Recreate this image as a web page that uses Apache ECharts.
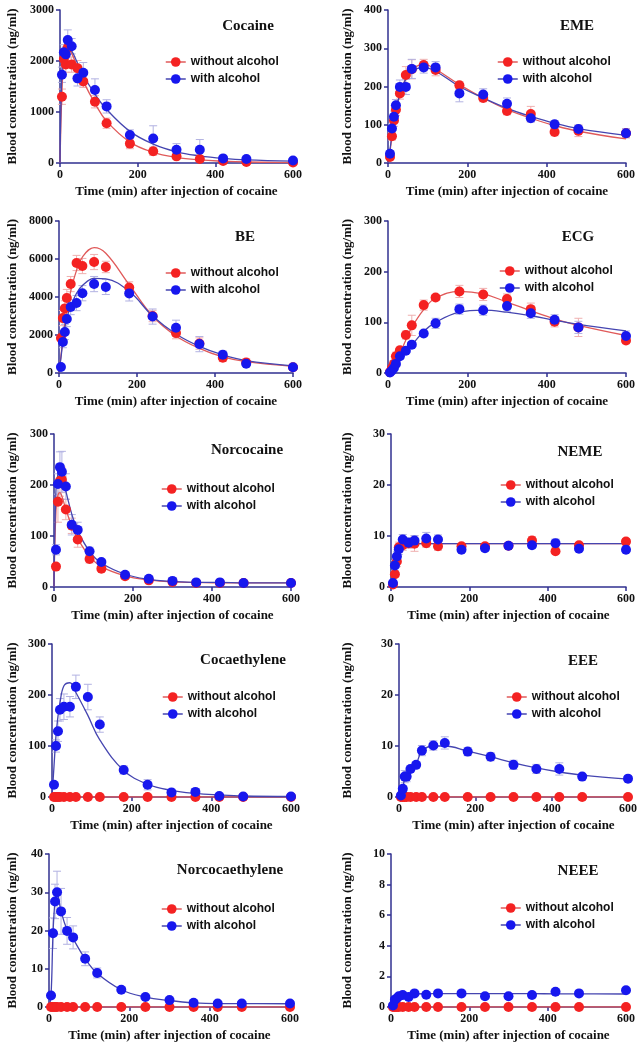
<!DOCTYPE html>
<html lang="en">
<head>
<meta charset="UTF-8">
<title>Blood concentration after cocaine injection</title>
<script src="https://cdn.jsdelivr.net/npm/echarts/dist/echarts.min.js"></script>
<style>
  html, body { margin: 0; padding: 0; background: #fff; }
  #main { width: 641px; height: 1050px; }
</style>
</head>
<body>
<div id="main"></div>
<script>
// sampling times (min) of the measured points
var T = [5, 10, 15, 20, 30, 45, 60, 90, 120, 180, 240, 300, 360, 420, 480, 600];
var FIT_T = [0, 5, 10, 15, 20, 30, 45, 60, 90, 120, 180, 240, 300, 360, 420, 480, 600];

var ZERO = [0, 0, 0, 0, 0, 0, 0, 0, 0, 0, 0, 0, 0, 0, 0, 0];
var ZERO_FIT = [0, 0, 0, 0, 0, 0, 0, 0, 0, 0, 0, 0, 0, 0, 0, 0, 0];

// Cocaine
var cocWithout = [1300, 2040, 1930, 2260, 1930, 1860, 1600, 1200, 780, 380, 230, 130, 80, 40, 20, 10];
var cocWith = [1730, 2170, 2130, 2410, 2290, 1660, 1770, 1430, 1110, 550, 480, 260, 260, 90, 80, 50];
var cocWithoutSd = [150, 150, 150, 200, 150, 150, 120, 120, 100, 100, 80, 50, 40, 20, 15, 10];
var cocWithSd = [150, 150, 150, 200, 150, 150, 200, 220, 130, 100, 250, 120, 200, 40, 30, 30];
var cocFitWithout = [0, 1400, 2050, 2230, 2250, 2150, 1870, 1600, 1170, 820, 410, 210, 110, 60, 35, 20, 8];
var cocFitWith = [0, 1800, 2150, 2250, 2260, 2200, 1960, 1720, 1350, 1050, 620, 370, 220, 140, 90, 60, 35];

// EME
var emeWithout = [16, 70, 111, 139, 182, 230, 245, 256, 243, 203, 170, 136, 128, 81, 84, 78];
var emeWith = [24, 90, 121, 151, 199, 199, 246, 250, 250, 182, 179, 155, 117, 101, 89, 78];
var emeWithoutSd = [5, 10, 15, 15, 15, 22, 25, 15, 15, 10, 10, 10, 20, 10, 15, 12];
var emeWithSd = [8, 12, 15, 15, 18, 20, 25, 15, 15, 22, 15, 15, 10, 10, 10, 12];
var emeFitWithout = [0, 30, 70, 105, 135, 180, 222, 245, 258, 245, 205, 170, 140, 117, 98, 83, 63];
var emeFitWith = [0, 35, 75, 110, 138, 180, 220, 240, 250, 240, 200, 170, 143, 122, 104, 90, 72];

// BE
var beWithout = [1840, 2890, 3400, 3950, 4680, 5790, 5630, 5840, 5580, 4500, 3000, 2100, 1550, 800, 550, 300];
var beWith = [315, 1630, 2160, 2840, 3470, 3680, 4200, 4680, 4530, 4190, 2970, 2380, 1520, 960, 490, 300];
var beWithoutSd = [150, 400, 400, 450, 400, 400, 400, 400, 300, 300, 300, 300, 300, 200, 200, 100];
var beWithSd = [100, 300, 400, 400, 400, 400, 400, 400, 400, 400, 400, 400, 400, 200, 100, 100];
var beFitWithout = [0, 900, 1800, 2600, 3300, 4300, 5400, 6100, 6600, 6300, 4650, 3000, 1950, 1300, 850, 600, 350];
var beFitWith = [0, 800, 1700, 2400, 2900, 3500, 4200, 4600, 4980, 4950, 4300, 3000, 2050, 1400, 950, 650, 380];

// ECG
var ecgWithout = [2, 10, 18, 33, 45, 75, 94, 134, 149, 161, 155, 146, 126, 101, 90, 64];
var ecgWith = [1, 5, 10, 18, 33, 44, 56, 78, 98, 126, 124, 132, 118, 105, 90, 73];
var ecgWithoutSd = [1, 3, 5, 8, 6, 8, 20, 10, 6, 12, 12, 10, 12, 10, 18, 6];
var ecgWithSd = [1, 2, 3, 4, 5, 5, 5, 5, 10, 10, 10, 10, 10, 10, 12, 10];
var ecgFitWithout = [0, 3, 9, 15, 22, 38, 65, 90, 125, 148, 161, 156, 140, 123, 107, 94, 74];
var ecgFitWith = [0, 2, 5, 9, 14, 24, 40, 55, 82, 100, 120, 124, 120, 113, 104, 96, 83];

// Norcocaine
var norWithout = [40, 167, 208, 210, 152, 120, 93, 55, 36, 21, 13, 10, 8, 8, 8, 8];
var norWith = [73, 202, 235, 226, 197, 122, 112, 70, 49, 24, 16, 12, 9, 9, 8, 8];
var norWithoutSd = [5, 40, 30, 25, 20, 15, 15, 8, 5, 4, 3, 2, 2, 1, 1, 1];
var norWithSd = [10, 20, 30, 40, 25, 20, 15, 8, 5, 4, 3, 2, 1, 1, 1, 1];
var norFitWithout = [0, 150, 180, 185, 178, 152, 120, 95, 60, 40, 22, 14, 10, 9, 8, 8, 8];
var norFitWith = [0, 190, 222, 228, 218, 188, 143, 110, 70, 47, 25, 15, 11, 9, 9, 8, 8];

// NEME
var nemeWithout = [0.5, 2.5, 5, 7.8, 8.2, 8.6, 8.5, 8.6, 8.0, 8.0, 8.0, 8.1, 9.1, 7.0, 8.2, 8.9];
var nemeWith = [0.8, 4.2, 6.0, 7.4, 9.3, 8.7, 9.1, 9.5, 9.3, 7.3, 7.6, 8.1, 8.2, 8.6, 7.5, 7.3];
var nemeWithoutSd = [0.3, 0.5, 1, 1, 1, 1, 1.5, 0.8, 0.8, 0.5, 0.5, 0.5, 0.8, 0.4, 0.5, 0.6];
var nemeWithSd = [0.3, 1, 1, 1, 1, 1, 1, 1.2, 0.9, 0.5, 0.5, 0.4, 0.6, 0.8, 0.5, 0.5];
var nemeFitWithout = [0, 2.5, 5, 7, 8, 8.4, 8.5, 8.5, 8.5, 8.5, 8.5, 8.5, 8.5, 8.5, 8.5, 8.5, 8.5];
var nemeFitWith = [0, 3, 5.5, 7.2, 8, 8.4, 8.5, 8.5, 8.5, 8.5, 8.5, 8.5, 8.5, 8.5, 8.5, 8.5, 8.5];

// Cocaethylene
var ceWith = [24, 100, 129, 171, 177, 177, 216, 196, 142, 53, 24, 9, 10, 2, 1, 1];
var ceWithSd = [4, 12, 20, 22, 25, 20, 23, 25, 15, 8, 10, 3, 6, 2, 1, 1];
var ceFitWith = [0, 60, 120, 158, 185, 218, 224, 205, 160, 112, 52, 25, 13, 7, 4, 2, 1];

// EEE
var eeeWith = [0.3, 1.6, 4.0, 4.0, 5.5, 6.3, 9.1, 10.1, 10.6, 8.9, 7.9, 6.3, 5.5, 5.5, 4.0, 3.6];
var eeeWithSd = [0.2, 0.5, 1.2, 1.0, 0.6, 0.5, 1.0, 0.9, 1.2, 0.8, 0.8, 0.9, 0.9, 1.2, 0.4, 0.4];
var eeeFitWith = [0, 0.3, 1.6, 3.8, 4.1, 5.5, 6.5, 9.0, 10.0, 10.0, 9.0, 7.9, 6.7, 5.7, 4.9, 4.3, 3.5];

// Norcocaethylene
var nceWith = [3.0, 19.3, 27.6, 30.0, 25.0, 19.9, 18.2, 12.6, 8.9, 4.5, 2.6, 1.8, 1.1, 0.9, 0.9, 0.9];
var nceWithSd = [0.5, 4, 4.5, 5.5, 6, 3.5, 3, 1.8, 1.3, 0.4, 0.3, 0.3, 0.2, 0.2, 0.2, 0.2];
var nceFitWith = [0, 3.0, 19.3, 27.6, 29.8, 25.0, 20.2, 17.8, 12.6, 8.8, 4.5, 2.6, 1.7, 1.1, 0.9, 0.9, 0.85];

// NEEE
var neeeWith = [0.1, 0.48, 0.57, 0.7, 0.78, 0.65, 0.89, 0.8, 0.89, 0.89, 0.7, 0.7, 0.78, 1.0, 0.89, 1.09];
var neeeFitWith = [0, 0.1, 0.4, 0.55, 0.65, 0.75, 0.8, 0.85, 0.87, 0.88, 0.88, 0.87, 0.87, 0.87, 0.86, 0.86, 0.85];

var panels = [
  {name: 'Cocaine', max: 3000, step: 1000, wo: cocWithout, w: cocWith, woSd: cocWithoutSd, wSd: cocWithSd, woFit: cocFitWithout, wFit: cocFitWith,
   grid: [60, 10, 233, 153], gap: 41, title: [248, 26], legend: [165, 56]},
  {name: 'EME', max: 400, step: 100, wo: emeWithout, w: emeWith, woSd: emeWithoutSd, wSd: emeWithSd, woFit: emeFitWithout, wFit: emeFitWith,
   grid: [388, 10, 238, 153], gap: 34, title: [577, 26], legend: [497, 56]},
  {name: 'BE', max: 8000, step: 2000, wo: beWithout, w: beWith, woSd: beWithoutSd, wSd: beWithSd, woFit: beFitWithout, wFit: beFitWith,
   grid: [59, 221, 234, 152], gap: 40, title: [245, 237], legend: [165, 267]},
  {name: 'ECG', max: 300, step: 100, wo: ecgWithout, w: ecgWith, woSd: ecgWithoutSd, wSd: ecgWithSd, woFit: ecgFitWithout, wFit: ecgFitWith,
   grid: [388, 221, 238, 152], gap: 34, title: [578, 237], legend: [499, 265]},
  {name: 'Norcocaine', max: 300, step: 100, wo: norWithout, w: norWith, woSd: norWithoutSd, wSd: norWithSd, woFit: norFitWithout, wFit: norFitWith,
   grid: [54, 434, 237, 153], gap: 35, title: [247, 450], legend: [161, 483]},
  {name: 'NEME', max: 30, step: 10, wo: nemeWithout, w: nemeWith, woSd: nemeWithoutSd, wSd: nemeWithSd, woFit: nemeFitWithout, wFit: nemeFitWith,
   grid: [391, 434, 235, 153], gap: 37, title: [580, 452], legend: [500, 479]},
  {name: 'Cocaethylene', max: 300, step: 100, wo: ZERO, w: ceWith, woSd: ZERO, wSd: ceWithSd, woFit: ZERO_FIT, wFit: ceFitWith,
   grid: [52, 644, 239, 153], gap: 33, title: [243, 660], legend: [162, 691]},
  {name: 'EEE', max: 30, step: 10, wo: ZERO, w: eeeWith, woSd: ZERO, wSd: eeeWithSd, woFit: ZERO_FIT, wFit: eeeFitWith,
   grid: [399, 644, 229, 153], gap: 45, title: [583, 661], legend: [506, 691]},
  {name: 'Norcocaethylene', max: 40, step: 10, wo: ZERO, w: nceWith, woSd: ZERO, wSd: nceWithSd, woFit: ZERO_FIT, wFit: nceFitWith,
   grid: [49, 854, 241, 153], gap: 30, title: [230, 870], legend: [161, 903]},
  {name: 'NEEE', max: 10, step: 2, wo: ZERO, w: neeeWith, woSd: ZERO, wSd: ZERO, woFit: ZERO_FIT, wFit: neeeFitWith,
   grid: [391, 854, 235, 153], gap: 37, title: [578, 871], legend: [500, 902]}
];

var SERIF = '"Liberation Serif", "Times New Roman", serif';
var AXIS = '#303090';
var RED = '#f42222', BLUE = '#1717ee';
var RED_LINE = '#e05a5a', BLUE_LINE = '#4545b0';
var RED_BAR = '#efb0b0', BLUE_BAR = '#b2b2e2';

function pairs(t, v) {
  return t.map(function (x, i) { return [x, v[i]]; });
}

function errorBars(idx, v, sd, color) {
  return {
    type: 'custom', xAxisIndex: idx, yAxisIndex: idx, silent: true, z: 1,
    data: T.map(function (x, i) { return [x, v[i] - sd[i], v[i] + sd[i], sd[i]]; }),
    encode: {x: 0, y: [1, 2]},
    renderItem: function (params, api) {
      if (!api.value(3)) return null;
      var lo = api.coord([api.value(0), api.value(1)]);
      var hi = api.coord([api.value(0), api.value(2)]);
      var st = {stroke: color, lineWidth: 1};
      return {type: 'group', children: [
        {type: 'line', shape: {x1: hi[0] - 4, y1: hi[1], x2: hi[0] + 4, y2: hi[1]}, style: st},
        {type: 'line', shape: {x1: hi[0], y1: hi[1], x2: lo[0], y2: lo[1]}, style: st},
        {type: 'line', shape: {x1: lo[0] - 4, y1: lo[1], x2: lo[0] + 4, y2: lo[1]}, style: st}
      ]};
    }
  };
}

var grids = [], xAxes = [], yAxes = [], series = [], legends = [], graphics = [];

panels.forEach(function (p, i) {
  grids.push({left: p.grid[0], top: p.grid[1], width: p.grid[2], height: p.grid[3]});
  xAxes.push({
    type: 'value', gridIndex: i, min: 0, max: 600, interval: 200,
    name: 'Time (min) after injection of cocaine', nameLocation: 'middle', nameGap: 22,
    nameTextStyle: {fontFamily: SERIF, fontWeight: 'bold', fontSize: 13, color: '#111'},
    axisLine: {lineStyle: {color: AXIS, width: 1.5}},
    axisTick: {length: 4, lineStyle: {color: AXIS, width: 1.5}},
    axisLabel: {fontFamily: SERIF, fontWeight: 'bold', fontSize: 12, color: '#111', margin: 6},
    splitLine: {show: false}
  });
  yAxes.push({
    type: 'value', gridIndex: i, min: 0, max: p.max, interval: p.step,
    name: 'Blood concentration (ng/ml)', nameLocation: 'middle', nameGap: p.gap, nameRotate: 90,
    nameTextStyle: {fontFamily: SERIF, fontWeight: 'bold', fontSize: 13, color: '#111'},
    axisLine: {show: true, lineStyle: {color: AXIS, width: 1.5}},
    axisTick: {show: true, length: 4, lineStyle: {color: AXIS, width: 1.5}},
    axisLabel: {fontFamily: SERIF, fontWeight: 'bold', fontSize: 12, color: '#111', margin: 6,
      formatter: function (v) { return String(v); }},
    splitLine: {show: false}
  });

  series.push(errorBars(i, p.wo, p.woSd, RED_BAR));
  series.push(errorBars(i, p.w, p.wSd, BLUE_BAR));
  series.push({
    type: 'line', name: 'fit without', xAxisIndex: i, yAxisIndex: i, z: 2, silent: true,
    data: pairs(FIT_T, p.woFit), showSymbol: false, smooth: 0.4,
    lineStyle: {color: RED_LINE, width: 1.3}
  });
  series.push({
    type: 'line', name: 'fit with', xAxisIndex: i, yAxisIndex: i, z: 2, silent: true,
    data: pairs(FIT_T, p.wFit), showSymbol: false, smooth: 0.4,
    lineStyle: {color: BLUE_LINE, width: 1.3}
  });
  series.push({
    type: 'line', name: 'without alcohol', xAxisIndex: i, yAxisIndex: i, z: 3, clip: false,
    data: pairs(T, p.wo), symbol: 'circle', symbolSize: 10,
    itemStyle: {color: RED}, lineStyle: {width: 0, opacity: 0}
  });
  series.push({
    type: 'line', name: 'with alcohol', xAxisIndex: i, yAxisIndex: i, z: 4, clip: false,
    data: pairs(T, p.w), symbol: 'circle', symbolSize: 10,
    itemStyle: {color: BLUE}, lineStyle: {width: 0, opacity: 0}
  });

  legends.push({
    left: p.legend[0], top: p.legend[1], orient: 'vertical', padding: 0,
    itemWidth: 20, itemHeight: 12, itemGap: 5, selectedMode: false,
    textStyle: {fontFamily: '"Liberation Sans", Arial, sans-serif', fontWeight: 'bold', fontSize: 12, color: '#111'},
    data: [
      {name: 'without alcohol', itemStyle: {color: RED}, lineStyle: {color: RED_LINE, width: 1.5, opacity: 1}},
      {name: 'with alcohol', itemStyle: {color: BLUE}, lineStyle: {color: BLUE_LINE, width: 1.5, opacity: 1}}
    ]
  });

  graphics.push({
    type: 'text', x: p.title[0], y: p.title[1],
    style: {text: p.name, font: 'bold 15px ' + SERIF, fill: '#111', textAlign: 'center', textVerticalAlign: 'middle'}
  });
});

var chart = echarts.init(document.getElementById('main'));
chart.setOption({
  animation: false,
  backgroundColor: '#fff',
  grid: grids,
  xAxis: xAxes,
  yAxis: yAxes,
  legend: legends,
  graphic: graphics,
  series: series
});
</script>
</body>
</html>
